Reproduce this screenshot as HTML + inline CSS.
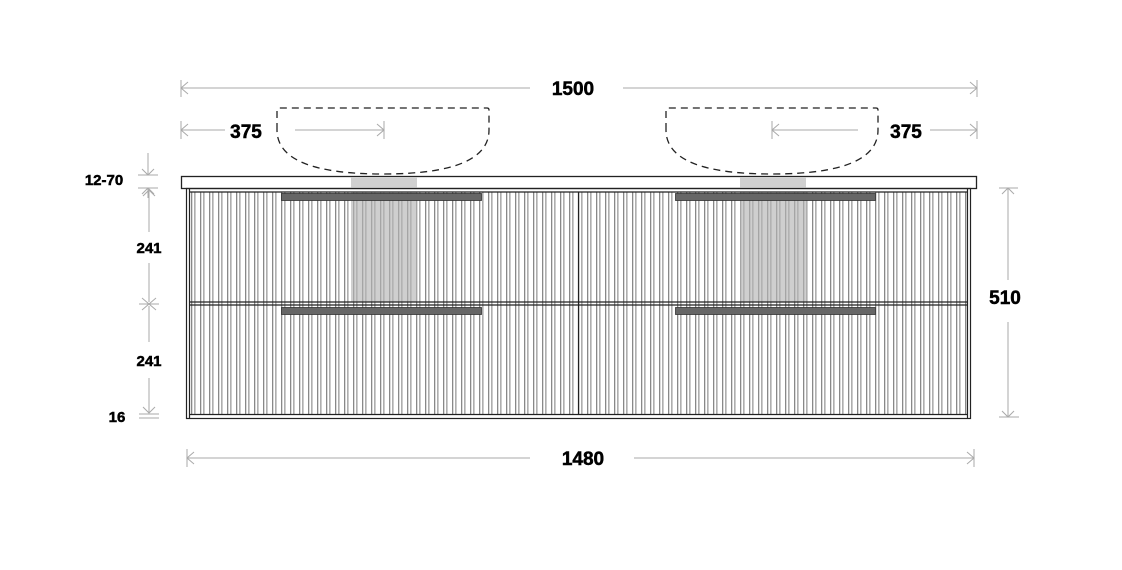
<!DOCTYPE html>
<html><head><meta charset="utf-8"><style>
html,body{margin:0;padding:0;background:#fff;}
svg{display:block;}
text{font-family:"Liberation Sans",sans-serif;font-weight:bold;fill:#000;stroke:#000;stroke-width:0.5;}
</style></head><body>
<svg width="1122" height="570" viewBox="0 0 1122 570" xmlns="http://www.w3.org/2000/svg">
<defs>
<pattern id="fl" x="191" y="0" width="9" height="10" patternUnits="userSpaceOnUse">
<rect x="0" y="0" width="1.3" height="10" fill="#888"/>
<rect x="3.2" y="0" width="1.3" height="10" fill="#999"/>
</pattern>
</defs>
<g stroke="#aaa" stroke-width="1" fill="none">
<line x1="181" y1="88" x2="530" y2="88"/><line x1="623" y1="88" x2="977" y2="88"/>
<line x1="181" y1="80" x2="181" y2="97"/><line x1="977" y1="80" x2="977" y2="97"/>
<polyline points="188,82 181,88 188,94"/><polyline points="970,82 977,88 970,94"/>
<line x1="181" y1="130" x2="225" y2="130"/><line x1="295" y1="130" x2="384" y2="130"/>
<line x1="181" y1="121" x2="181" y2="139"/><line x1="384" y1="121" x2="384" y2="139"/>
<polyline points="188,124 181,130 188,136"/><polyline points="377,124 384,130 377,136"/>
<line x1="772" y1="130" x2="858" y2="130"/><line x1="930" y1="130" x2="977" y2="130"/>
<line x1="772" y1="121" x2="772" y2="139"/><line x1="977" y1="121" x2="977" y2="139"/>
<polyline points="779,124 772,130 779,136"/><polyline points="970,124 977,130 970,136"/>
<line x1="148" y1="153" x2="148" y2="175"/><line x1="138" y1="175" x2="158" y2="175"/>
<line x1="138" y1="188" x2="158" y2="188"/><line x1="148" y1="188" x2="148" y2="198"/>
<polyline points="142,169 148,175 154,169"/><polyline points="142,194 148,188 154,194"/>
<line x1="149" y1="190" x2="149" y2="232"/><line x1="149" y1="263" x2="149" y2="302"/>
<polyline points="143,196 149,190 155,196"/>
<line x1="139" y1="304" x2="159" y2="304"/><line x1="142" y1="298" x2="156" y2="310"/><line x1="156" y1="298" x2="142" y2="310"/>
<line x1="149" y1="306" x2="149" y2="342"/><line x1="149" y1="378" x2="149" y2="413"/>
<polyline points="143,407 149,413 155,407"/>
<line x1="139" y1="414" x2="159" y2="414"/><line x1="139" y1="418" x2="159" y2="418"/>
<line x1="1008" y1="188" x2="1008" y2="280"/><line x1="1008" y1="322" x2="1008" y2="417"/>
<line x1="999" y1="188" x2="1018" y2="188"/><line x1="999" y1="417" x2="1019" y2="417"/>
<polyline points="1002,194 1008,188 1014,194"/><polyline points="1002,411 1008,417 1014,411"/>
<line x1="187" y1="458" x2="530" y2="458"/><line x1="634" y1="458" x2="974" y2="458"/>
<line x1="187" y1="449" x2="187" y2="467"/><line x1="974" y1="449" x2="974" y2="467"/>
<polyline points="194,452 187,458 194,464"/><polyline points="967,452 974,458 967,464"/>
</g>
<g stroke="#222" stroke-width="1.3" fill="none" stroke-dasharray="7,5">
<path d="M277,130 L277,110 Q277,108 279,108 L487,108 Q489,108 489,110 L489,130 Q489,174 383,174 Q277,174 277,130"/>
<path d="M666,130 L666,110 Q666,108 668,108 L876,108 Q878,108 878,110 L878,130 Q878,174 772,174 Q666,174 666,130"/>
</g>
<rect x="181.5" y="176.5" width="795" height="12" fill="#fff" stroke="#222" stroke-width="1.3"/>
<rect x="351" y="177" width="66" height="11" fill="#d0d0d0"/>
<rect x="740" y="177" width="66" height="11" fill="#d0d0d0"/>
<rect x="190" y="192" width="778" height="222" fill="url(#fl)"/>
<rect x="351" y="192" width="66" height="110" fill="#b5b5b5" opacity="0.65"/>
<rect x="740" y="192" width="66" height="110" fill="#b5b5b5" opacity="0.65"/>
<g stroke="#222" stroke-width="1.2" fill="none">
<rect x="186.5" y="188.5" width="784" height="230"/>
<line x1="189.5" y1="189" x2="189.5" y2="418"/>
<line x1="967.5" y1="189" x2="967.5" y2="418"/>
<line x1="190" y1="192" x2="967" y2="192"/>
<line x1="190" y1="302" x2="967" y2="302"/>
<line x1="190" y1="305" x2="967" y2="305"/>
<line x1="190" y1="414.5" x2="967" y2="414.5"/>
<line x1="578.5" y1="192" x2="578.5" y2="414"/>
</g>
<g fill="#666" stroke="#333" stroke-width="0.8">
<rect x="281.5" y="193.5" width="200" height="7"/>
<rect x="675.5" y="193.5" width="200" height="7"/>
<rect x="281.5" y="307.5" width="200" height="7"/>
<rect x="675.5" y="307.5" width="200" height="7"/>
</g>
<text x="573" y="95" font-size="19" text-anchor="middle">1500</text>
<text x="246" y="138" font-size="19" text-anchor="middle">375</text>
<text x="906" y="138" font-size="19" text-anchor="middle">375</text>
<text x="104" y="185" font-size="15" text-anchor="middle">12-70</text>
<text x="149" y="253" font-size="15" text-anchor="middle">241</text>
<text x="149" y="366" font-size="15" text-anchor="middle">241</text>
<text x="117" y="422" font-size="15" text-anchor="middle">16</text>
<text x="1005" y="304" font-size="19" text-anchor="middle">510</text>
<text x="583" y="465" font-size="19" text-anchor="middle">1480</text>
</svg>
</body></html>
